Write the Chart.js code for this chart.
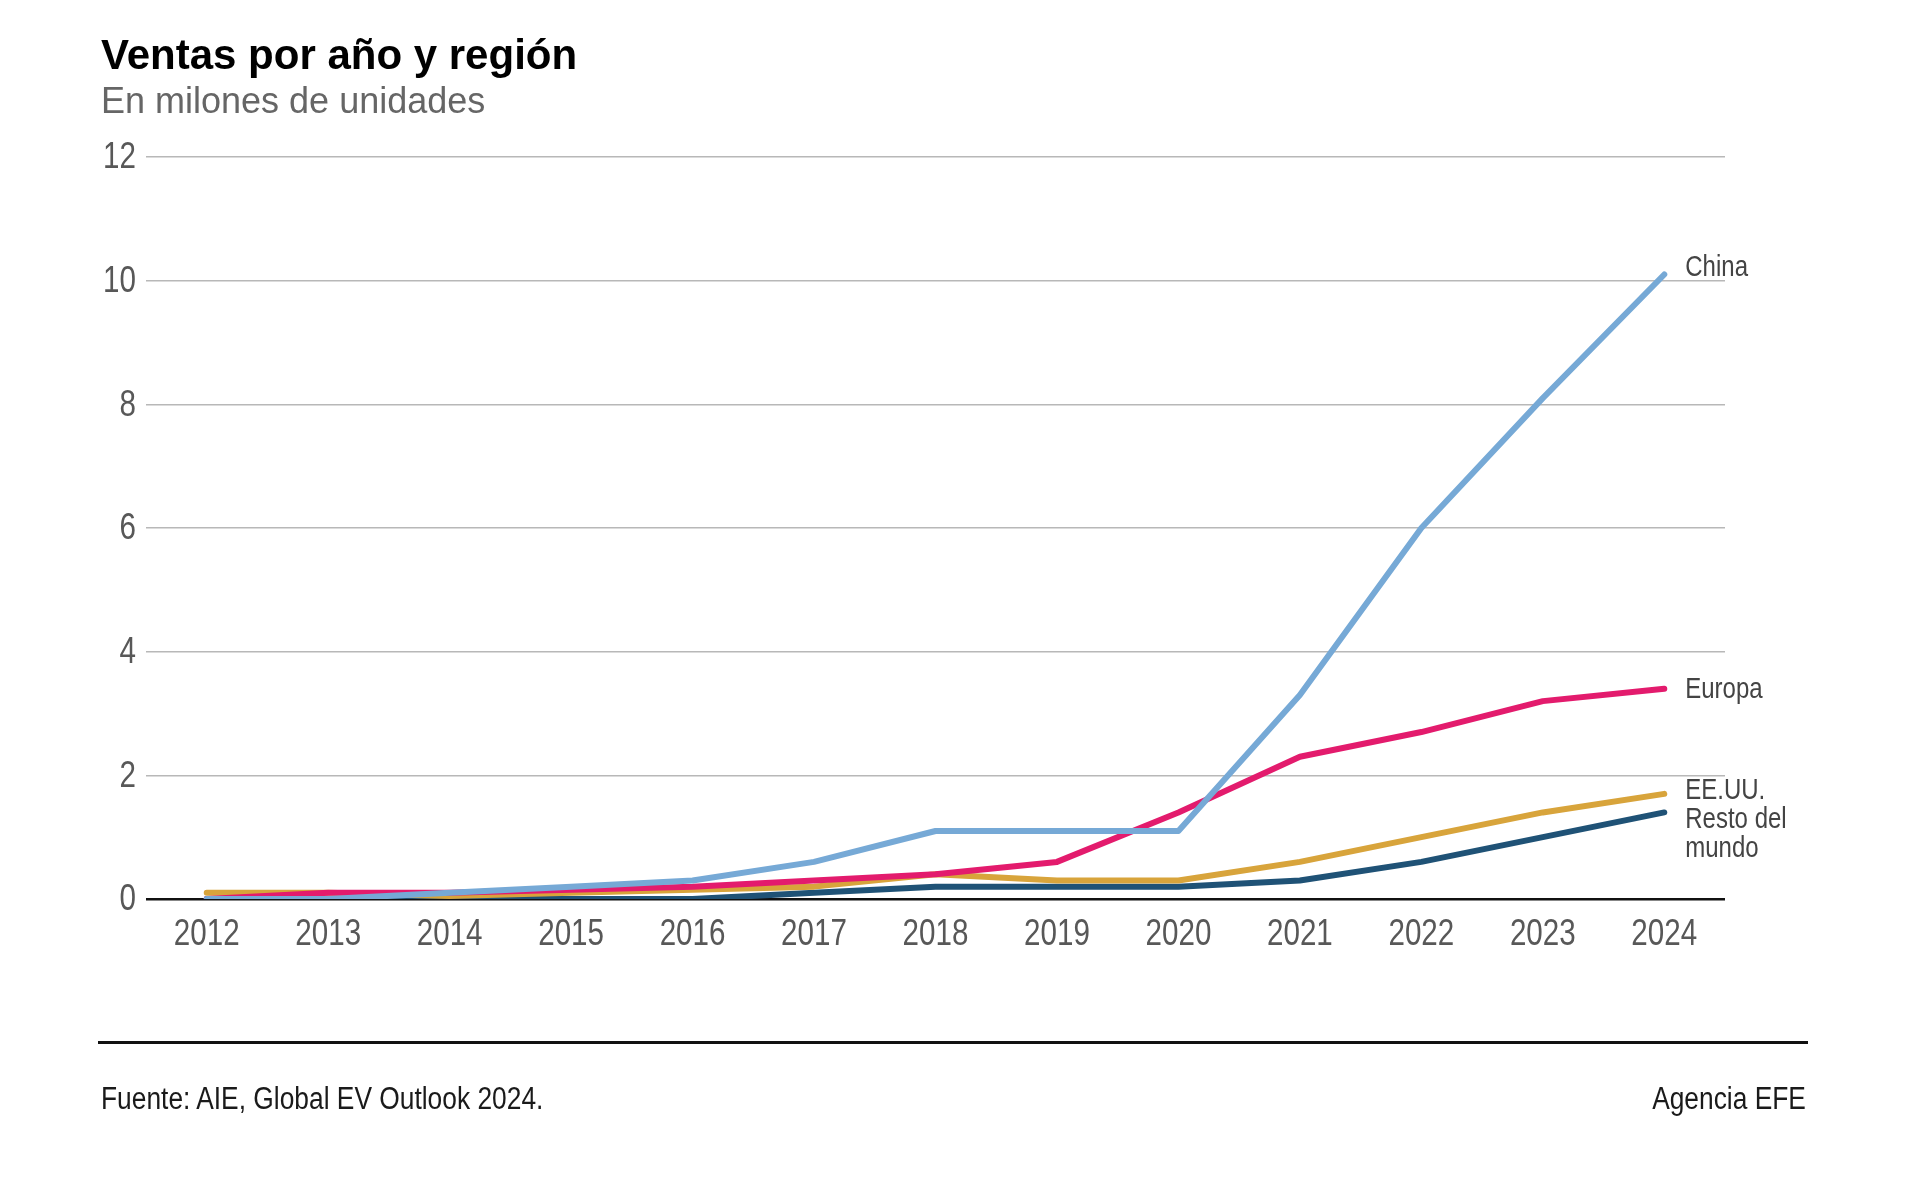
<!DOCTYPE html>
<html>
<head>
<meta charset="utf-8">
<script src="https://cdn.jsdelivr.net/npm/chart.js@4.4.1/dist/chart.umd.min.js"></script>
<style>
  html, body { margin: 0; padding: 0; background: #fff; }
  #wrap { position: relative; width: 1920px; height: 1186px; }
  #stuChart { position: absolute; left: 0; top: 0; }
  .txt { position: absolute; white-space: nowrap; line-height: 1; }
  #title { left: 101px; top: 31px; font: bold 42px "Liberation Sans", Arial, sans-serif; color: #000; }
  #subtitle { left: 101px; top: 80px; font: 36px "Liberation Sans", Arial, sans-serif; color: #666; }
  #rule { position: absolute; left: 98px; top: 1041px; width: 1710px; height: 3px; background: #111; }
  .foot { top: 1081px; font: 31px "Liberation Sans", Arial, sans-serif; color: #1a1a1a; }
  #src { left: 101px; transform: scaleX(0.85); transform-origin: left top; }
  #agency { right: 114px; transform: scaleX(0.85); transform-origin: right top; }
</style>
</head>
<body>
<div id="wrap">
  <canvas id="stuChart" width="1920" height="1186"></canvas>
  <div class="txt" id="title">Ventas por año y región</div>
  <div class="txt" id="subtitle">En milones de unidades</div>
  <div id="rule"></div>
  <div class="txt foot" id="src">Fuente: AIE, Global EV Outlook 2024.</div>
  <div class="txt foot" id="agency">Agencia EFE</div>
</div>
<script>
let years = ['2012', '2013', '2014', '2015', '2016', '2017', '2018', '2019', '2020', '2021', '2022', '2023', '2024']
let yTicks = [0, 2, 4, 6, 8, 10, 12]

let china  = [0.0, 0.0, 0.1, 0.2, 0.3, 0.6, 1.1, 1.1, 1.1, 3.3, 6.0, 8.1, 10.1]
let europa = [0.0, 0.1, 0.1, 0.15, 0.2, 0.3, 0.4, 0.6, 1.4, 2.3, 2.7, 3.2, 3.4]
let eeuu   = [0.1, 0.1, 0.05, 0.1, 0.15, 0.2, 0.4, 0.3, 0.3, 0.6, 1.0, 1.4, 1.7]
let resto  = [0.0, 0.0, 0.0, 0.0, 0.0, 0.1, 0.2, 0.2, 0.2, 0.3, 0.6, 1.0, 1.4]

let sans = '"Liberation Sans", Arial, sans-serif'
let squeeze = 0.8   // imita la letra estrecha del original

// etiquetas al final de cada línea (desplazamiento vertical en px)
let endLabels = [
  { lines: ['China'], dy: 2 },
  { lines: ['Europa'], dy: 9 },
  { lines: ['EE.UU.'], dy: 5 },
  { lines: ['Resto del', 'mundo'], dy: 16 }
]

function narrowText(c, text, x, y) {
  c.save()
  c.translate(x, y)
  c.scale(squeeze, 1)
  c.fillText(text, 0, 0)
  c.restore()
}

let narrowPlugin = {
  id: 'narrowText',
  afterDraw(chart) {
    let c = chart.ctx
    let xs = chart.scales.x, ys = chart.scales.y
    c.save()
    c.fillStyle = '#585858'
    c.font = '37px ' + sans
    // ticks eje y
    c.textAlign = 'right'
    c.textBaseline = 'middle'
    ys.ticks.forEach((t, i) => narrowText(c, String(t.value), xs.left - 10, ys.getPixelForTick(i) + 1))
    // ticks eje x
    c.textAlign = 'center'
    c.textBaseline = 'alphabetic'
    xs.ticks.forEach((t, i) => narrowText(c, years[i], xs.getPixelForTick(i), ys.bottom + 46))
    // etiquetas de series
    c.font = '30px ' + sans
    c.fillStyle = '#444'
    c.textAlign = 'left'
    chart.data.datasets.forEach((ds, i) => {
      let pts = chart.getDatasetMeta(i).data
      let p = pts[pts.length - 1]
      endLabels[i].lines.forEach((t, j) => narrowText(c, t, p.x + 21, p.y + endLabels[i].dy + j * 29))
    })
    c.restore()
  }
}

let ctx = document.getElementById('stuChart')

new Chart(ctx, {
  type: 'line',
  data: {
    labels: years,
    datasets: [
      { label: 'China', data: china, borderColor: '#76a9d6' },
      { label: 'Europa', data: europa, borderColor: '#e31b6d' },
      { label: 'EE.UU.', data: eeuu, borderColor: '#d8a43b' },
      { label: 'Resto del mundo', data: resto, borderColor: '#1f5276' }
    ]
  },
  options: {
    responsive: false,
    animation: false,
    devicePixelRatio: 1,
    layout: { padding: { top: 157, right: 195, left: 0, bottom: 0 } },
    elements: {
      line: { borderWidth: 6, tension: 0, borderCapStyle: 'round', borderJoinStyle: 'round', fill: false },
      point: { radius: 0, hoverRadius: 0 }
    },
    plugins: { legend: { display: false }, tooltip: { enabled: false } },
    scales: {
      x: {
        offset: true,
        grid: { display: false },
        border: { display: false },
        ticks: { color: 'rgba(0,0,0,0)', font: { family: sans, size: 37 }, padding: 8, maxRotation: 0, autoSkip: false },
        afterFit(scale) { scale.height = 287 }
      },
      y: {
        min: 0, max: 12,
        afterBuildTicks(scale) { scale.ticks = yTicks.map(v => ({ value: v })) },
        border: { display: false },
        grid: {
          drawTicks: false,
          color: c => c.tick && c.tick.value === 0 ? '#111' : '#b8b8b8',
          lineWidth: c => c.tick && c.tick.value === 0 ? 2.5 : 1.5
        },
        ticks: { color: 'rgba(0,0,0,0)', font: { family: sans, size: 37 }, padding: 10 },
        afterFit(scale) { scale.width = 146 }
      }
    }
  },
  plugins: [narrowPlugin]
});
</script>
</body>
</html>
